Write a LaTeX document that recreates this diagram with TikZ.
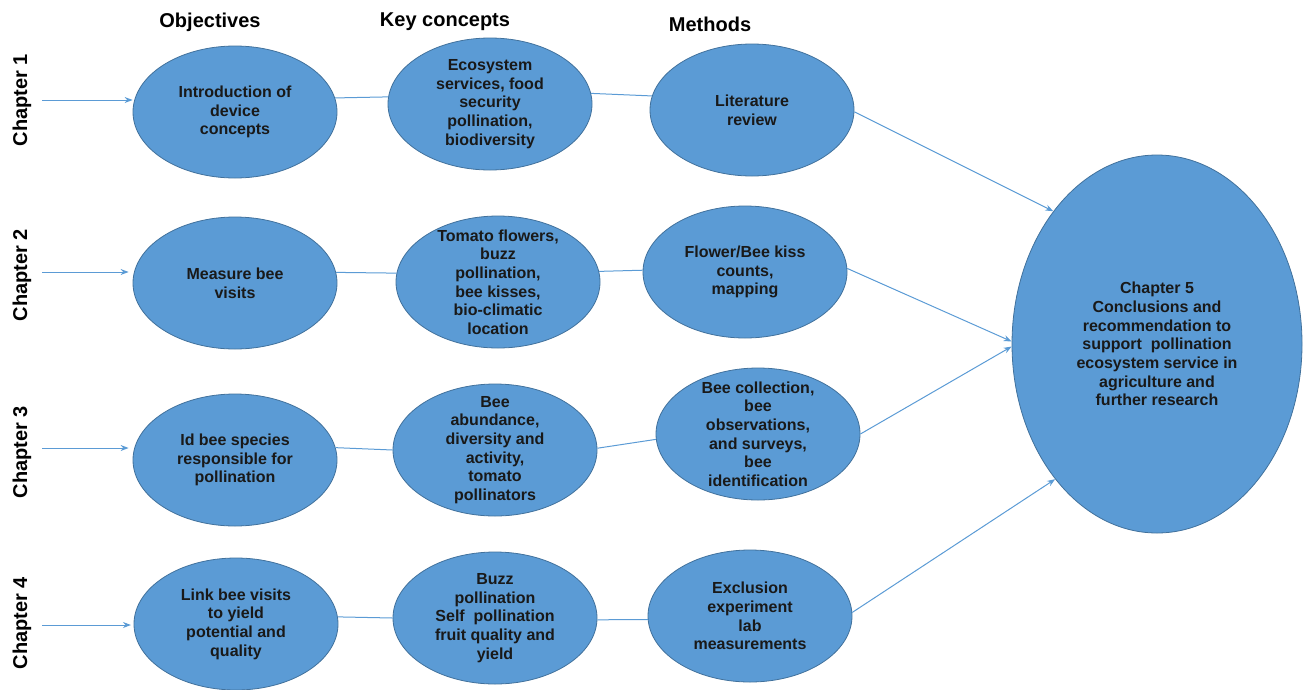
\documentclass[tikz,border=0pt]{standalone}
\usepackage{fontspec}
\setmainfont{Liberation Sans}
\usetikzlibrary{shapes.geometric,positioning,arrows.meta}
\definecolor{bubblefill}{RGB}{91,155,213}
\definecolor{bubbleline}{RGB}{65,113,156}
\definecolor{linkblue}{RGB}{91,155,213}
\tikzset{
	bubble/.style={ellipse, draw=bubbleline, fill=bubblefill, line width=0.6pt,
		minimum width=153pt, minimum height=99pt, inner sep=0pt},
	txt/.style={align=center, font=\bfseries\fontsize{12}{14}\selectfont, text=black!90},
	head/.style={font=\bfseries\fontsize{15}{18}\selectfont},
	link/.style={draw=linkblue, line width=0.75pt},
	arr/.style={link, -{Stealth[length=6pt,width=4.5pt]}}
}

\begin{document}
\begin{tikzpicture}[x=0.75pt, y=-0.75pt]
				\useasboundingbox (0,0) rectangle (1308,689);
				% column headers
				\node[head] (hobj) at (210,22) {Objectives};
				\node[head] (hkey) at (445,22) {Key concepts};
				\node[head] (hmet) at (710,24) {Methods};
				% chapter labels
				\node[head, rotate=90] (ch1) at (22,100) {Chapter 1};
				\node[head, rotate=90] (ch2) at (22,275) {Chapter 2};
				\node[head, rotate=90] (ch3) at (22,452) {Chapter 3};
				\node[head, rotate=90] (ch4) at (22,623) {Chapter 4};
				% objectives
				\node[bubble, label={[txt]center:{Introduction of\\device\\concepts}}] (o1) at (235,112) {};
				\node[bubble, label={[txt]center:{Measure bee\\visits}}] (o2) at (235,283) {};
				\node[bubble, label={[txt]center:{Id bee species\\responsible for\\pollination}}] (o3) at (235,460) {};
				\node[bubble, label={[txt]center:{Link bee visits\\to yield\\potential and\\quality}}] (o4) at (236,624) {};
				% key concepts
				\node[bubble, label={[txt]center:{Ecosystem\\services, food\\security\\pollination,\\biodiversity}}] (k1) at (490,104) {};
				\node[bubble, label={[txt]center:{Tomato flowers,\\buzz\\pollination,\\bee kisses,\\bio-climatic\\location}}] (k2) at (498,282) {};
				\node[bubble, label={[txt]center:{Bee\\abundance,\\diversity and\\activity,\\tomato\\pollinators}}] (k3) at (495,450) {};
				\node[bubble, label={[txt]center:{Buzz\\pollination\\Self\ \ pollination\\fruit quality and\\yield}}] (k4) at (495,618) {};
				% methods
				\node[bubble, label={[txt]center:{Literature\\review}}] (m1) at (752,110) {};
				\node[bubble, label={[txt]center:{Flower/Bee kiss\\counts,\\mapping}}] (m2) at (745,272) {};
				\node[bubble, label={[txt]center:{Bee collection,\\bee\\observations,\\and surveys,\\bee\\identification}}] (m3) at (758,434) {};
				\node[bubble, label={[txt]center:{Exclusion\\experiment\\lab\\measurements}}] (m4) at (750,616) {};
				% conclusions
				\node[bubble, minimum width=217.5pt, minimum height=283.5pt,
					label={[txt]center:{Chapter 5\\Conclusions and\\recommendation to\\support\ \ pollination\\ecosystem service in\\agriculture and\\further research}}] (c5) at (1157,344) {};
				% incoming arrows
				\coordinate (s1) at (42,100);
				\coordinate (s2) at (42,272);
				\coordinate (s3) at (42,448);
				\coordinate (s4) at (42,625);
				\draw[arr] (s1) -- (s1 -| o1.west);
				\draw[arr] (s2) -- ([xshift=-3pt]s2 -| o2.west);
				\draw[arr] (s3) -- ([xshift=-3pt]s3 -| o3.west);
				\draw[arr] (s4) -- ([xshift=-2pt]s4 -| o4.west);
				% row links
				\draw[link] (o1.8) -- (k1.176);
				\draw[link] (k1.6) -- (m1.172);
				\draw[link] (o2.6) -- (k2.175);
				\draw[link] (k2.6) -- (m2.179);
				\draw[link] (o3.7) -- (k3.180);
				\draw[link] (k3.1) -- (m3.183);
				\draw[link] (o4.4) -- (k4.180);
				\draw[link] (k4.359) -- (m4.182);
				% to chapter 5
				\draw[arr] (m1.-1) -- (c5.128);
				\draw[arr] (m2.2) -- (c5.179);
				\draw[arr] (m3.0) -- (c5.181);
				\draw[arr] (m4.2) -- (c5.233);
			\end{tikzpicture}
\end{document}
